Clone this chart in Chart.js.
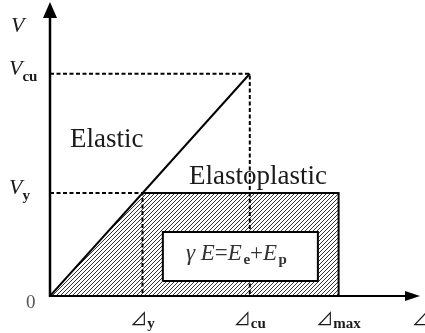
<!DOCTYPE html>
<html>
<head>
<meta charset="utf-8">
<script src="https://cdn.jsdelivr.net/npm/chart.js@4/dist/chart.umd.min.js"></script>
<style>
  html, body { margin: 0; padding: 0; background: #fff; }
  #wrap { width: 425px; height: 333px; }
</style>
</head>
<body>
<div id="wrap"><canvas id="energyChart"></canvas></div>
<script>
// key displacements: 0, Δy, Δcu, Δmax
const displacement = [0, 25, 54, 78];
// key loads: 0, Vy, Vcu
const load = [0, 35, 75.6];
const xTickSubs = ['y', 'cu', 'max'];
const yTickSubs = ['y', 'cu'];
// energy label box corners (x, y)
const boxX = [30.5, 72.4];
const boxY = [5.1, 21.8];

const serif = '"Liberation Serif", "Times New Roman", serif';

const elasticLine = [
    { x: displacement[0], y: load[0] },
    { x: displacement[2], y: load[2] }
];
const plasticLine = [
    { x: displacement[1], y: load[1] },
    { x: displacement[3], y: load[1] },
    { x: displacement[3], y: load[0] }
];
const hatchArea = [
    { x: displacement[0], y: load[0] },
    { x: displacement[1], y: load[1] },
    { x: displacement[3], y: load[1] },
    { x: displacement[3], y: load[0] }
];
const guideCu = [
    { x: 0, y: load[2] },
    { x: displacement[2], y: load[2] },
    { x: displacement[2], y: 0 }
];
const guideY = [
    { x: 0, y: load[1] },
    { x: displacement[1], y: load[1] },
    { x: displacement[1], y: 0 }
];
const boxPts = [
    { x: boxX[0], y: boxY[0] },
    { x: boxX[1], y: boxY[0] },
    { x: boxX[1], y: boxY[1] },
    { x: boxX[0], y: boxY[1] },
    { x: boxX[0], y: boxY[0] }
];

function makeHatch() {
    const c = document.createElement('canvas');
    c.width = 4;
    c.height = 4;
    const g = c.getContext('2d');
    g.strokeStyle = '#333';
    g.lineWidth = 1;
    g.beginPath();
    g.moveTo(-1, 5); g.lineTo(5, -1);
    g.moveTo(-1, 1); g.lineTo(1, -1);
    g.moveTo(3, 5); g.lineTo(5, 3);
    g.stroke();
    return g.createPattern(c, 'repeat');
}

function drawSub(ctx, main, sub, x, y, mainFont, subFont, drop) {
    ctx.font = mainFont;
    ctx.fillText(main, x, y);
    const w = ctx.measureText(main).width;
    ctx.font = subFont;
    ctx.fillText(sub, x + w, y + drop);
}

const axesAndLabels = {
    id: 'axesAndLabels',
    afterDatasetsDraw(chart) {
        const ctx = chart.ctx;
        const xs = chart.scales.x, ys = chart.scales.y;
        const x0 = xs.getPixelForValue(0), y0 = ys.getPixelForValue(0);
        const top = chart.chartArea.top, right = chart.chartArea.right;
        ctx.save();
        ctx.strokeStyle = '#000';
        ctx.fillStyle = '#000';
        // y axis with arrow
        ctx.lineWidth = 2.5;
        ctx.beginPath();
        ctx.moveTo(x0, y0 + 1);
        ctx.lineTo(x0, top + 12);
        ctx.stroke();
        ctx.beginPath();
        ctx.moveTo(x0, top);
        ctx.lineTo(x0 - 7, top + 16);
        ctx.lineTo(x0 + 7, top + 16);
        ctx.closePath();
        ctx.fill();
        // x axis with arrow
        ctx.lineWidth = 2;
        ctx.beginPath();
        ctx.moveTo(x0, y0);
        ctx.lineTo(right - 10, y0);
        ctx.stroke();
        ctx.beginPath();
        ctx.moveTo(right, y0);
        ctx.lineTo(right - 15, y0 - 5);
        ctx.lineTo(right - 15, y0 + 5);
        ctx.closePath();
        ctx.fill();

        ctx.fillStyle = '#1a1a1a';
        ctx.textBaseline = 'alphabetic';
        ctx.textAlign = 'left';
        const vFont = 'italic 22px ' + serif;
        const subFont = 'bold 15px ' + serif;
        // y axis labels
        ctx.font = vFont;
        ctx.fillText('V', 11, 32);
        yTickSubs.forEach((s, i) => {
            const py = ys.getPixelForValue(load[i + 1]);
            drawSub(ctx, 'V', s, 9, py + 1, vFont, subFont, 6);
        });
        ctx.fillStyle = '#555';
        ctx.font = '19px ' + serif;
        ctx.fillText('0', 26, 308);
        // x axis labels
        ctx.fillStyle = '#1a1a1a';
        const dFont = '17px "Noto Sans CJK SC", "DejaVu Sans", sans-serif';
        xTickSubs.forEach((s, i) => {
            const px = xs.getPixelForValue(displacement[i + 1]);
            ctx.font = dFont;
            const w = ctx.measureText('⊿').width;
            ctx.font = subFont;
            const ws = ctx.measureText(s).width;
            drawSub(ctx, '⊿', s, px - (w + ws) / 2, 325, dFont, subFont, 3);
        });
        ctx.font = dFont;
        ctx.fillText('⊿', 412, 325);

        // region names
        ctx.font = '27px ' + serif;
        ctx.fillText('Elastic', 70, 147);
        ctx.fillText('Elastoplastic', 189, 184);

        // energy formula
        ctx.fillStyle = '#333';
        let fx = 186;
        const fy = 260;
        const parts = [
            ['γ ', 'italic 23px ' + serif, 0],
            ['E', 'italic 23px ' + serif, 0],
            ['=', '23px ' + serif, 0],
            ['E', 'italic 23px ' + serif, 0],
            [' ', '6px ' + serif, 0],
            ['e', 'bold 15px ' + serif, 4],
            ['+', '23px ' + serif, 0],
            ['E', 'italic 23px ' + serif, 0],
            [' ', '6px ' + serif, 0],
            ['p', 'bold 15px ' + serif, 4]
        ];
        parts.forEach(([t, f, d]) => {
            ctx.font = f;
            ctx.fillText(t, fx, fy + d);
            fx += ctx.measureText(t).width;
        });
        ctx.restore();
    }
};

const ctx = document.getElementById('energyChart').getContext('2d');

new Chart(ctx, {
    type: 'scatter',
    data: {
        datasets: [
            {
                data: elasticLine,
                showLine: true,
                borderColor: '#000',
                borderWidth: 2,
                pointRadius: 0,
                order: 1
            },
            {
                data: plasticLine,
                showLine: true,
                borderColor: '#000',
                borderWidth: 2,
                pointRadius: 0,
                order: 1
            },
            {
                data: boxPts,
                showLine: true,
                borderColor: '#000',
                borderWidth: 2,
                backgroundColor: '#fff',
                fill: 'shape',
                pointRadius: 0,
                order: 3
            },
            {
                data: guideCu,
                showLine: true,
                borderColor: '#000',
                borderWidth: 2,
                borderDash: [4, 2.5],
                pointRadius: 0,
                order: 4
            },
            {
                data: guideY,
                showLine: true,
                borderColor: '#000',
                borderWidth: 2,
                borderDash: [4, 2.5],
                pointRadius: 0,
                order: 4
            },
            {
                data: hatchArea,
                showLine: true,
                borderWidth: 0,
                borderColor: 'rgba(0,0,0,0)',
                backgroundColor: makeHatch(),
                fill: 'origin',
                pointRadius: 0,
                order: 5
            }
        ]
    },
    options: {
        responsive: true,
        maintainAspectRatio: false,
        animation: false,
        layout: { padding: { left: 50, top: 2, right: 5, bottom: 37 } },
        scales: {
            x: { type: 'linear', min: 0, max: 100, display: false },
            y: { type: 'linear', min: 0, max: 100, display: false }
        },
        plugins: {
            legend: { display: false },
            tooltip: { enabled: false }
        }
    },
    plugins: [axesAndLabels]
});
</script>
</body>
</html>
